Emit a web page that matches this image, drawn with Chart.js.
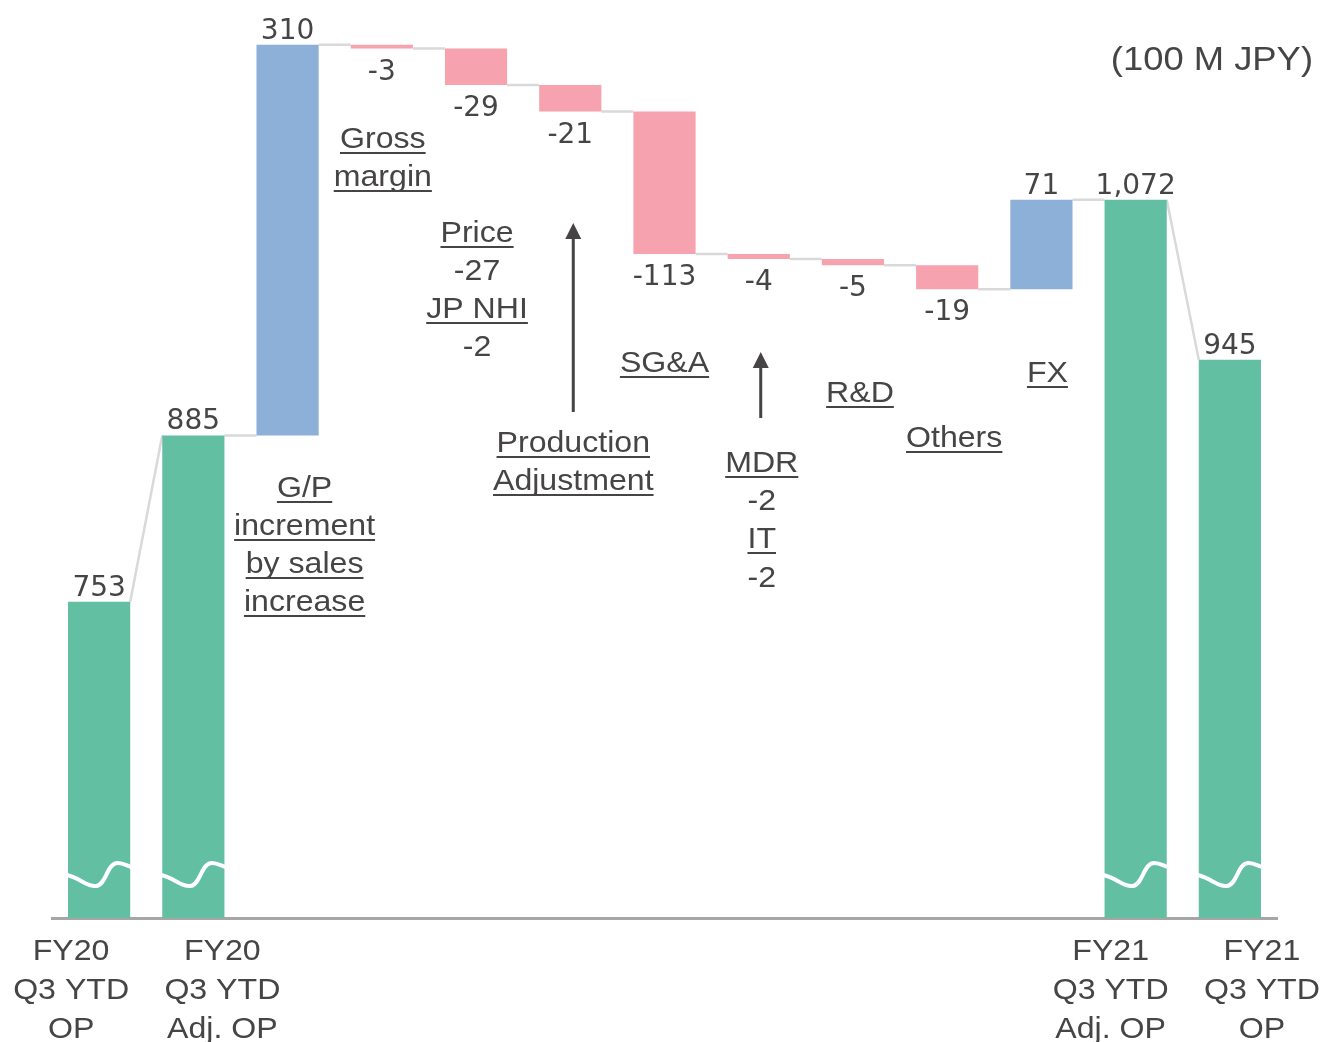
<!DOCTYPE html>
<html>
<head>
<meta charset="utf-8">
<script src="https://cdn.jsdelivr.net/npm/chart.js@4.4.1/dist/chart.umd.min.js"></script>
<style>
  html, body { margin: 0; padding: 0; background: #fff; }
  #wrap { position: relative; width: 1323px; height: 1042px; }
</style>
</head>
<body>
<div id="wrap"><canvas id="chart"></canvas></div>
<script>
// --- data ---
const categories = ['FY20 OP', 'FY20 Adj. OP', 'G/P increment', 'Gross margin', 'Price', 'Production Adjustment',
                    'SG&A', 'MDR', 'R&D', 'Others', 'FX', 'FY21 Adj. OP', 'FY21 OP'];
const tickLabels = [['FY20', 'Q3 YTD', 'OP'], ['FY20', 'Q3 YTD', 'Adj. OP'], [], [], [], [], [], [], [], [], [],
                    ['FY21', 'Q3 YTD', 'Adj. OP'], ['FY21', 'Q3 YTD', 'OP']];
const values = [753, 885, 310, -3, -29, -21, -113, -4, -5, -19, 71, 1072, 945];
const isTotal = [true, true, false, false, false, false, false, false, false, false, false, true, true];
const axisFloor = 502;   // broken axis, bars start here
const axisTop = 1222.6;
const unitLabel = '(100 M JPY)';

// running totals -> floating bars
const running = [];
const ranges = [];
let acc = 0;
values.forEach((v, i) => {
  if (isTotal[i]) {
    ranges.push([axisFloor, v]);
    acc = v;
  } else {
    ranges.push([acc, acc + v]);
    acc += v;
  }
  running.push(acc);
});

const GREEN = '#63bfa1', BLUE = '#8db0d8', PINK = '#f6a2af';
const colors = values.map((v, i) => isTotal[i] ? GREEN : (v >= 0 ? BLUE : PINK));

const TEXT = '#464444';
const ARIAL = '"Liberation Sans", Arial, sans-serif';
const VERDANA = '"DejaVu Sans", Verdana, sans-serif';
const STRETCH = 1.07; // the source text is a bit wider than Arial

// layout of the notes (x anchored on a category centre)
const notes = [
  { cat: 3, dx: 1, lines: [['Gross', true, 148], ['margin', true, 186]] },
  { cat: 4, dx: 1, lines: [['Price', true, 242], ['-27', false, 280], ['JP NHI', true, 318], ['-2', false, 356]] },
  { cat: 5, dx: 3, lines: [['Production', true, 452], ['Adjustment', true, 490]] },
  { cat: 6, dx: 0, lines: [['SG&A', true, 372]] },
  { cat: 7, dx: 3, lines: [['MDR', true, 472], ['-2', false, 510], ['IT', true, 548], ['-2', false, 587]] },
  { cat: 8, dx: 7, lines: [['R&D', true, 402]] },
  { cat: 9, dx: 7, lines: [['Others', true, 447]] },
  { cat: 10, dx: 6, lines: [['FX', true, 382]] },
  { cat: 2, dx: 17, lines: [['G/P', true, 497], ['increment', true, 535], ['by sales', true, 573], ['increase', true, 611]] }
];
const arrows = [
  { cat: 5, dx: 3, from: 412, to: 223 },
  { cat: 7, dx: 2, from: 418, to: 352 }
];
const tickShift = [-28, 29, 0, 0, 0, 0, 0, 0, 0, 0, 0, -25, 32];

const fmt = v => v.toLocaleString('en-US');

const waterfallDecor = {
  id: 'waterfallDecor',
  beforeDatasetsDraw(chart) {
    const ctx = chart.ctx;
    const y = chart.scales.y;
    const bars = chart.getDatasetMeta(0).data;
    ctx.save();
    ctx.strokeStyle = '#d9d9d9';
    ctx.lineWidth = 2.5;
    for (let i = 0; i < bars.length - 1; i++) {
      const a = bars[i], b = bars[i + 1];
      const startLevel = running[i];
      const endLevel = isTotal[i + 1] ? values[i + 1] : running[i];
      ctx.beginPath();
      ctx.moveTo(a.x + a.width / 2, y.getPixelForValue(startLevel));
      ctx.lineTo(b.x - b.width / 2, y.getPixelForValue(endLevel));
      ctx.stroke();
    }
    ctx.restore();
  },
  afterDatasetsDraw(chart) {
    const ctx = chart.ctx;
    const area = chart.chartArea;
    const xs = chart.scales.x;
    const bars = chart.getDatasetMeta(0).data;
    ctx.save();

    // break marks on the total bars
    ctx.strokeStyle = '#ffffff';
    ctx.lineWidth = 4;
    const B = area.bottom;
    bars.forEach((bar, i) => {
      if (!isTotal[i]) return;
      const L = bar.x - bar.width / 2, w = bar.width;
      ctx.beginPath();
      ctx.moveTo(L - 1, B - 43);
      ctx.bezierCurveTo(L + 0.2 * w, B - 40, L + 0.3 * w, B - 31, L + 0.45 * w, B - 32);
      ctx.bezierCurveTo(L + 0.62 * w, B - 33, L + 0.62 * w, B - 55, L + 0.8 * w, B - 55);
      ctx.bezierCurveTo(L + 0.9 * w, B - 55, L + 0.95 * w, B - 52, L + w + 1, B - 51);
      ctx.stroke();
    });

    // value labels
    ctx.fillStyle = TEXT;
    ctx.textAlign = 'center';
    ctx.textBaseline = 'alphabetic';
    ctx.font = '28px ' + VERDANA;
    bars.forEach((bar, i) => {
      const top = Math.min(bar.y, bar.base), bottom = Math.max(bar.y, bar.base);
      if (isTotal[i] || values[i] >= 0) {
        ctx.fillText(fmt(values[i]), bar.x, top - 6);
      } else {
        ctx.fillText(fmt(values[i]), bar.x, bottom + 31);
      }
    });

    // wide text helper
    const wideText = (t, cx, base, underline) => {
      ctx.save();
      ctx.translate(cx, base);
      ctx.scale(STRETCH, 1);
      ctx.fillText(t, 0, 0);
      if (underline) {
        const w = ctx.measureText(t).width;
        ctx.fillRect(-w / 2, 4, w, 2);
      }
      ctx.restore();
    };

    // category labels under the axis
    ctx.font = '30px ' + ARIAL;
    tickLabels.forEach((lines, i) => {
      const cx = xs.getPixelForValue(i) + tickShift[i];
      lines.forEach((t, k) => wideText(t, cx, area.bottom + 42 + k * 39, false));
    });

    // notes
    notes.forEach(n => {
      const cx = xs.getPixelForValue(n.cat) + n.dx;
      n.lines.forEach(([t, u, base]) => wideText(t, cx, base, u));
    });

    // arrows
    ctx.strokeStyle = TEXT;
    ctx.lineWidth = 3;
    arrows.forEach(a => {
      const cx = xs.getPixelForValue(a.cat) + a.dx;
      ctx.beginPath();
      ctx.moveTo(cx, a.from);
      ctx.lineTo(cx, a.to + 14);
      ctx.stroke();
      ctx.beginPath();
      ctx.moveTo(cx, a.to);
      ctx.lineTo(cx - 8, a.to + 16);
      ctx.lineTo(cx + 8, a.to + 16);
      ctx.closePath();
      ctx.fill();
    });

    // unit
    ctx.textAlign = 'right';
    ctx.font = '34px ' + ARIAL;
    ctx.save();
    ctx.translate(1313, 70);
    ctx.scale(STRETCH, 1);
    ctx.fillText(unitLabel, 0, 0);
    ctx.restore();
    ctx.restore();
  }
};

new Chart(document.getElementById('chart'), {
  type: 'bar',
  data: {
    labels: categories,
    datasets: [{
      data: ranges,
      backgroundColor: colors,
      borderWidth: 0,
      barPercentage: 0.66,
      categoryPercentage: 1.0
    }]
  },
  options: {
    responsive: true,
    maintainAspectRatio: false,
    animation: false,
    layout: { padding: { left: 52, right: 46, top: 10, bottom: 0 } },
    plugins: { legend: { display: false }, tooltip: { enabled: false } },
    scales: {
      x: {
        grid: { display: false, drawTicks: false },
        ticks: { display: false },
        border: { display: true, color: '#a6a6a6', width: 3 },
        afterFit: s => { s.height = 124; }
      },
      y: {
        display: false,
        min: axisFloor,
        max: axisTop
      }
    }
  },
  plugins: [waterfallDecor]
});
</script>
</body>
</html>
